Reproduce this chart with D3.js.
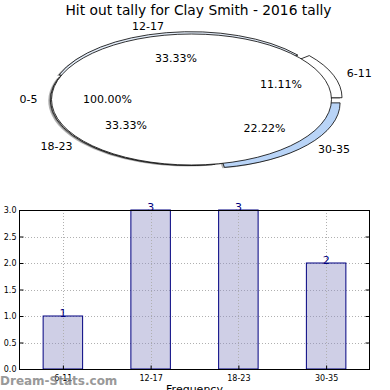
<!DOCTYPE html>
<html><head><meta charset="utf-8">
<script src="https://cdn.jsdelivr.net/npm/d3@7"></script>
<style>body{margin:0;background:#fff}svg{display:block}text{font-family:"DejaVu Sans",sans-serif}</style>
</head><body><svg id="c" width="390" height="390"></svg>
<script>
const title = "Hit out tally for Clay Smith - 2016 tally";
const categories = ["6-11", "12-17", "18-23", "30-35"];
const values = [1, 3, 3, 2];
const overlayCategory = "0-5";
const overlayPct = "100.00%";
const pieColors = ["#ffffff", "#e4edf9", "#dcdcdc", "#b9d4f7"];
const explode = [0.08, 0.035, 0.01, 0.08];
const yTicks = [0, 0.5, 1, 1.5, 2, 2.5, 3];
const xLabel = "Frequency";
const watermark = "Dream-Stats.com";

const svg = d3.select("#c");
svg.append("text").attr("x", 198.5).attr("y", 15).attr("text-anchor", "middle")
  .attr("font-size", 13.8).text(title);

// ---- pie ----
const cx = 191.5, cy = 99.5, rx = 140, ry = 65.5;
const total = d3.sum(values);
const pie = d3.pie().sort(null).value(d => d).startAngle(Math.PI / 2).endAngle(Math.PI / 2 - 2 * Math.PI);
const arcs = pie(values);
const arcGen = d3.arc().innerRadius(0).outerRadius(1);
const toXY = (a, r) => [Math.sin(a) * r, -Math.cos(a) * r];

const pg = svg.append("g");
// shadows
const sh = pg.append("g").attr("transform", `translate(${cx - 0.015 * rx},${cy + 0.015 * ry}) scale(${rx},${ry})`);
arcs.forEach((a, i) => {
  const m = (a.startAngle + a.endAngle) / 2;
  const [ox, oy] = toXY(m, explode[i]);
  sh.append("path").attr("d", arcGen(a)).attr("transform", `translate(${ox},${oy})`)
    .attr("fill", "#000").attr("opacity", 0.3);
});
sh.append("ellipse").attr("rx", 1).attr("ry", 1).attr("fill", "#000").attr("opacity", 0.3);
// wedges
const wg = pg.append("g").attr("transform", `translate(${cx},${cy}) scale(${rx},${ry})`);
arcs.forEach((a, i) => {
  const m = (a.startAngle + a.endAngle) / 2;
  const [ox, oy] = toXY(m, explode[i]);
  wg.append("path").attr("d", arcGen(a)).attr("transform", `translate(${ox},${oy})`)
    .attr("fill", pieColors[i]).attr("stroke", "#000").attr("stroke-width", 0.8)
    .attr("vector-effect", "non-scaling-stroke");
});
wg.append("ellipse").attr("rx", 1).attr("ry", 1).attr("fill", "#fff")
  .attr("stroke", "#000").attr("stroke-width", 0.8).attr("vector-effect", "non-scaling-stroke");

// labels
function putLabel(angle, dist, txt, centered) {
  const [x, y] = toXY(angle, dist);
  const px = cx + x * rx, py = cy + y * ry;
  svg.append("text").attr("x", px).attr("y", py).attr("dy", "0.35em")
    .attr("text-anchor", centered ? "middle" : (x >= 0 ? "start" : "end"))
    .attr("font-size", 11).text(txt);
}
arcs.forEach((a, i) => {
  const m = (a.startAngle + a.endAngle) / 2;
  putLabel(m, 1.1 + explode[i], categories[i], false);
  putLabel(m, 0.6 + explode[i], (values[i] / total * 100).toFixed(2) + "%", true);
});
putLabel(-Math.PI / 2, 1.1, overlayCategory, false);
putLabel(-Math.PI / 2, 0.6, overlayPct, true);

// ---- bar chart ----
const L = 19, R = 370, T = 210, B = 369;
const x = d3.scaleLinear().domain([-0.5, 3.5]).range([L, R]);
const y = d3.scaleLinear().domain([0, 3]).range([B, T]);
const bg = svg.append("g");
const gridStyle = s => s.attr("stroke", "#b0b0b0").attr("stroke-dasharray", "1,2").attr("stroke-width", 1);
yTicks.forEach(t => bg.append("line").attr("x1", L).attr("x2", R).attr("y1", Math.round(y(t)) + 0.5).attr("y2", Math.round(y(t)) + 0.5).call(gridStyle));
const bw = 0.45;
categories.forEach((c, i) => {
  bg.append("rect").attr("x", x(i - bw / 2)).attr("width", x(bw) - x(0))
    .attr("y", y(values[i])).attr("height", y(0) - y(values[i]))
    .attr("fill", "#8c8cc4").attr("fill-opacity", 0.42).attr("stroke", "#000080").attr("stroke-width", 1);
});
categories.forEach((c, i) => bg.append("line").attr("x1", Math.round(x(i)) + 0.5).attr("x2", Math.round(x(i)) + 0.5)
  .attr("y1", T).attr("y2", B).call(gridStyle));
categories.forEach((c, i) => {
  bg.append("text").attr("x", x(i)).attr("y", y(values[i]) + 1).attr("text-anchor", "middle")
    .attr("fill", "#000080").attr("font-size", 11).text(values[i]);
});
bg.append("rect").attr("x", L + 0.5).attr("y", T + 0.5).attr("width", R - L - 1).attr("height", B - T)
  .attr("fill", "none").attr("stroke", "#000").attr("stroke-width", 1);
// ticks
const yAxis = d3.axisLeft(y).tickValues(yTicks).tickSize(-4).tickPadding(3).tickFormat(d3.format(".1f"));
const ya = bg.append("g").attr("transform", `translate(${L + 0.5},0)`).call(yAxis);
ya.select(".domain").remove();
ya.selectAll("text").attr("font-size", 8).attr("font-family", "DejaVu Sans Condensed, DejaVu Sans").attr("fill", "#000");
const yr = bg.append("g").attr("transform", `translate(${R - 0.5},0)`).call(d3.axisRight(y).tickValues(yTicks).tickSize(-4).tickFormat(""));
yr.select(".domain").remove();
const xAxis = d3.axisBottom(x).tickValues(d3.range(categories.length)).tickSize(-4).tickPadding(6).tickFormat(i => categories[i]);
const xa = bg.append("g").attr("transform", `translate(0,${B + 0.5})`).call(xAxis);
xa.select(".domain").remove();
xa.selectAll("text").attr("font-size", 8).attr("font-family", "DejaVu Sans Condensed, DejaVu Sans").attr("fill", "#000");
svg.append("text").attr("x", 194.5).attr("y", 393).attr("text-anchor", "middle").attr("font-size", 11).text(xLabel);
svg.append("text").attr("x", 0).attr("y", 385).attr("font-size", 12).attr("font-weight", "bold")
  .attr("fill", "#888").attr("opacity", 0.85).text(watermark);
</script></body></html>
